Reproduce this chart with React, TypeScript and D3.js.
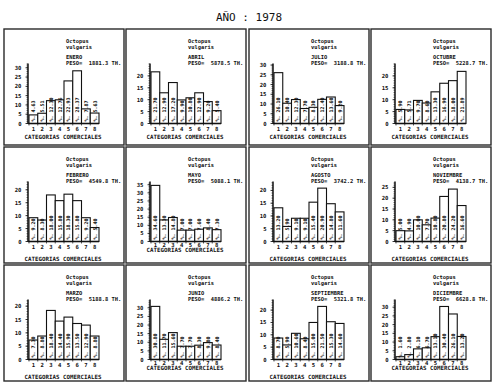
import React from 'react';
import * as d3 from 'd3';

// ---- data (percent per commercial category) ----
const months = ['ENERO', 'ABRIL', 'JULIO', 'OCTUBRE', 'FEBRERO', 'MAYO', 'AGOSTO', 'NOVIEMBRE', 'MARZO', 'JUNIO', 'SEPTIEMBRE', 'DICIEMBRE'];
const pesos = ['1881.3', '5878.5', '3188.8', '5228.7', '4549.8', '5088.1', '3742.2', '4138.7', '5188.8', '4886.2', '5321.8', '6628.8'];
const categories = ['1', '2', '3', '4', '5', '6', '7', '8'];

const enero = [4.63, 5.51, 12.3, 12.76, 22.93, 28.37, 7.87, 5.63];
const abril = [21.7, 12.9, 17.2, 9.9, 10.8, 12.9, 9.2, 5.4];
const julio = [26.1, 10.4, 12.3, 7.7, 8.3, 12.4, 13.6, 9.2];
const octubre = [5.9, 5.71, 9.7, 8.6, 13.3, 16.9, 18.0, 21.89];
const febrero = [9.2, 8.3, 18.0, 15.8, 18.3, 15.8, 9.2, 5.4];
const mayo = [34.6, 13.3, 14.8, 7.0, 7.0, 7.6, 8.4, 7.3];
const agosto = [13.2, 5.9, 9.1, 9.1, 15.4, 20.9, 14.8, 11.6];
const noviembre = [5.0, 4.9, 10.0, 7.7, 10.8, 20.8, 24.2, 16.6];
const marzo = [7.3, 8.8, 18.4, 14.4, 15.9, 13.5, 12.9, 8.8];
const junio = [30.8, 11.7, 15.6, 7.7, 7.7, 8.3, 9.8, 8.4];
const septiembre = [8.7, 5.9, 10.6, 8.4, 15.0, 21.5, 15.3, 14.6];
const diciembre = [1.6, 2.8, 6.1, 6.7, 13.1, 30.4, 26.1, 13.2];

const series = [enero, abril, julio, octubre, febrero, mayo, agosto, noviembre, marzo, junio, septiembre, diciembre];
const tickMax = [30, 20, 30, 20, 20, 35, 20, 25, 20, 30, 20, 30];
const axisMax = [32.3, 25.2, 30.8, 25.2, 23.2, 37, 23.5, 27.7, 22.5, 34.8, 24.3, 34.4];

// ---- layout ----
const W = 500;
const H = 388;
const colX = [4, 126, 249, 371];
const rowY = [29, 147, 265];
const panelW = 120;
const panelH = 116;
const plotH = 60;
const plotW = 70;
const compact = [false, false, false, false, false, true, false, false, false, true, false, true];
const FONT = '"DejaVu Sans Mono", "Liberation Mono", monospace';
const INK = '#111';

function Panel({ i }: { i: number }) {
  const px = colX[i % 4];
  const py = rowY[Math.floor(i / 4)];
  const row = Math.floor(i / 4);
  const ax = px + 24;
  const y0 = py + 94.5;
  const x = d3.scaleBand<string>().domain(categories).range([ax + 1, ax + 1 + plotW]).padding(0);
  const y = d3.scaleLinear().domain([0, axisMax[i]]).range([y0, y0 - plotH]);
  const majors = d3.range(0, tickMax[i] + 0.01, 5);
  const minors = d3.range(0, axisMax[i], 1);
  const vals = series[i];
  const catDy = compact[i] ? 10 : row === 0 ? 15 : 19;
  const tickDy = compact[i] ? 5.5 : 7;
  return (
    <g>
      <rect x={px} y={py} width={panelW} height={panelH} fill="none" stroke="#2a2a2a" strokeWidth={1.4} />
      <g fontFamily={FONT} fontWeight="bold" fill={INK} fontSize={5.4}>
        <text x={px + 62} y={py + 14}>Octopus</text>
        <text x={px + 62} y={py + 20}>vulgaris</text>
        <text x={px + 62} y={py + 30}>{months[i]}</text>
        <text x={px + 62} y={py + 36} xmlSpace="preserve">{`PESO=  ${pesos[i]} TH.`}</text>
      </g>
      {vals.map((v, k) => (
        <rect key={k} x={x(categories[k])} y={y(v)} width={x.bandwidth()} height={y0 - y(v)}
          fill="#fff" stroke={INK} strokeWidth={1.1} />
      ))}
      {vals.map((v, k) => {
        const cx = (x(categories[k]) as number) + x.bandwidth() / 2;
        return (
          <text key={'l' + k} transform={`translate(${cx},${y0 - 2}) rotate(-90)`} fontFamily={FONT}
            fontWeight="bold" fontSize={5} fill={INK} dominantBaseline="central" xmlSpace="preserve">
            {`%. ${v.toFixed(2)}`}
          </text>
        );
      })}
      <line x1={ax} x2={ax} y1={y0} y2={y(axisMax[i])} stroke={INK} strokeWidth={1.5} />
      <line x1={ax} x2={ax + plotW + 1} y1={y0} y2={y0} stroke={INK} strokeWidth={1.3} />
      {minors.map((m) => (
        <line key={'m' + m} x1={ax - 1.5} x2={ax} y1={y(m)} y2={y(m)} stroke={INK} strokeWidth={0.6} />
      ))}
      {majors.map((m) => (
        <g key={'t' + m}>
          <line x1={ax - 2.5} x2={ax} y1={y(m)} y2={y(m)} stroke={INK} strokeWidth={0.8} />
          <text x={ax - 6.5} y={y(m)} textAnchor="end" dominantBaseline="central" fontFamily={FONT}
            fontWeight="bold" fontSize={5.6} fill={INK}>{m}</text>
        </g>
      ))}
      {categories.map((c) => (
        <g key={'c' + c}>
          <line x1={(x(c) as number)} x2={(x(c) as number)} y1={y0} y2={y0 + 2} stroke={INK} strokeWidth={0.7} />
          <text x={(x(c) as number) + x.bandwidth() / 2} y={y0 + tickDy} textAnchor="middle" fontFamily={FONT}
            fontWeight="bold" fontSize={5.6} fill={INK}>{c}</text>
        </g>
      ))}
      <text x={ax + plotW / 2} y={y0 + catDy} textAnchor="middle" fontFamily={FONT} fontWeight="bold"
        fontSize={5.8} fill={INK}>CATEGORIAS COMERCIALES</text>
    </g>
  );
}

export default function App() {
  return (
    <svg width={W} height={H} style={{ position: 'absolute', left: 0, top: 0, background: '#fff' }}>
      <rect x={0} y={0} width={W} height={H} fill="#fff" />
      <text x={249} y={21} textAnchor="middle" fontFamily={FONT} fontSize={11} fill={INK}
        xmlSpace="preserve">AÑO : 1978</text>
      {months.map((_, i) => <Panel key={i} i={i} />)}
    </svg>
  );
}
